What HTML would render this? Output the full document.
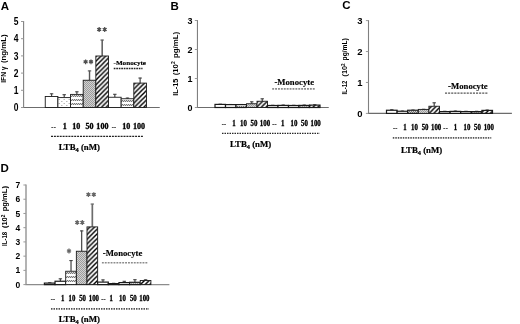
<!DOCTYPE html>
<html><head><meta charset="utf-8"><title>Figure</title>
<style>
html,body{margin:0;padding:0;background:#fff;}
body{width:520px;height:324px;overflow:hidden;font-family:"Liberation Sans",sans-serif;}
svg{display:block;filter:blur(0.35px);}
</style></head><body>
<svg width="520" height="324" viewBox="0 0 520 324">
<defs>
<pattern id="ph" width="4.7" height="4.7" patternUnits="userSpaceOnUse" patternTransform="translate(2.0,0)"><rect width="4.7" height="4.7" fill="#fff"/><path d="M-1,1 L1,-1 M-1,5.7 L5.7,-1 M3.7,5.7 L5.7,3.7" stroke="#000" stroke-width="1.45"/></pattern>
<pattern id="pg" width="2" height="2" patternUnits="userSpaceOnUse"><rect width="2" height="2" fill="#d2d2d2"/><rect width="1" height="1" fill="#9c9c9c"/><rect x="1" y="1" width="1" height="1" fill="#9c9c9c"/></pattern>
<pattern id="pv" width="2" height="4" patternUnits="userSpaceOnUse"><rect width="2" height="4" fill="#fff"/><rect x="0" y="2" width="1" height="1" fill="#787878"/><rect x="1" y="1" width="1" height="1" fill="#787878"/><rect x="0" y="1" width="1" height="1" fill="#d6d6d6"/><rect x="1" y="2" width="1" height="1" fill="#d6d6d6"/></pattern>
<pattern id="pd" width="5" height="4" patternUnits="userSpaceOnUse"><rect width="5" height="4" fill="#fff"/><rect x="1" y="1" width="1.5" height="0.8" fill="#aaa"/><rect x="3.5" y="3" width="1.5" height="0.8" fill="#aaa"/></pattern>
<g id="star"><path d="M0,-2.4 L0,2.4 M-2,-1.2 L2,1.2 M-2,1.2 L2,-1.2" stroke="currentColor" stroke-width="1.25" fill="none"/><circle r="1.3" fill="currentColor"/></g>
</defs>
<rect width="520" height="324" fill="#fff"/>
<text x="0.8" y="9.8" font-family='"Liberation Sans", sans-serif' font-size="11.5" font-weight="bold" text-anchor="start" fill="#000">A</text>
<line x1="23.6" y1="21.0" x2="23.6" y2="108.0" stroke="#808080" stroke-width="1.1"/>
<line x1="23.1" y1="107.5" x2="159.75" y2="107.5" stroke="#6c6c6c" stroke-width="1.1"/>
<line x1="21.0" y1="107.5" x2="23.6" y2="107.5" stroke="#999" stroke-width="1"/>
<text x="18.4" y="111.18" font-family='"Liberation Sans", sans-serif' font-size="10" font-weight="bold" text-anchor="end" fill="#000" textLength="4.73" lengthAdjust="spacingAndGlyphs">0</text>
<line x1="21.0" y1="90.3" x2="23.6" y2="90.3" stroke="#999" stroke-width="1"/>
<text x="18.4" y="93.98" font-family='"Liberation Sans", sans-serif' font-size="10" font-weight="bold" text-anchor="end" fill="#000" textLength="4.73" lengthAdjust="spacingAndGlyphs">1</text>
<line x1="21.0" y1="73.1" x2="23.6" y2="73.1" stroke="#999" stroke-width="1"/>
<text x="18.4" y="76.78" font-family='"Liberation Sans", sans-serif' font-size="10" font-weight="bold" text-anchor="end" fill="#000" textLength="4.73" lengthAdjust="spacingAndGlyphs">2</text>
<line x1="21.0" y1="55.9" x2="23.6" y2="55.9" stroke="#999" stroke-width="1"/>
<text x="18.4" y="59.58" font-family='"Liberation Sans", sans-serif' font-size="10" font-weight="bold" text-anchor="end" fill="#000" textLength="4.73" lengthAdjust="spacingAndGlyphs">3</text>
<line x1="21.0" y1="38.7" x2="23.6" y2="38.7" stroke="#999" stroke-width="1"/>
<text x="18.4" y="42.38" font-family='"Liberation Sans", sans-serif' font-size="10" font-weight="bold" text-anchor="end" fill="#000" textLength="4.73" lengthAdjust="spacingAndGlyphs">4</text>
<line x1="21.0" y1="21.5" x2="23.6" y2="21.5" stroke="#999" stroke-width="1"/>
<text x="18.4" y="25.18" font-family='"Liberation Sans", sans-serif' font-size="10" font-weight="bold" text-anchor="end" fill="#000" textLength="4.73" lengthAdjust="spacingAndGlyphs">5</text>
<line x1="51.575" y1="93.5" x2="51.575" y2="96.5" stroke="#444" stroke-width="1.2"/>
<line x1="49.875" y1="93.8" x2="53.275000000000006" y2="93.8" stroke="#444" stroke-width="1.1"/>
<rect x="45.25" y="96.50" width="12.65" height="11.00" fill="#fff" stroke="#1a1a1a" stroke-width="0.9"/>
<line x1="64.225" y1="94.4" x2="64.225" y2="97.6" stroke="#444" stroke-width="1.2"/>
<line x1="62.52499999999999" y1="94.7" x2="65.925" y2="94.7" stroke="#444" stroke-width="1.1"/>
<rect x="57.90" y="97.60" width="12.65" height="9.90" fill="url(#pd)" stroke="#1a1a1a" stroke-width="0.9"/>
<line x1="76.875" y1="91.5" x2="76.875" y2="94.4" stroke="#444" stroke-width="1.2"/>
<line x1="75.175" y1="91.8" x2="78.575" y2="91.8" stroke="#444" stroke-width="1.1"/>
<pattern id="pv23" href="#pv" patternTransform="translate(71,94)"/>
<rect x="70.55" y="94.40" width="12.65" height="13.10" fill="url(#pv23)" stroke="#1a1a1a" stroke-width="0.9"/>
<line x1="89.525" y1="70.6" x2="89.525" y2="80.25" stroke="#555" stroke-width="1.4"/>
<line x1="87.825" y1="70.89999999999999" x2="91.22500000000001" y2="70.89999999999999" stroke="#555" stroke-width="1.1"/>
<rect x="83.20" y="80.25" width="12.65" height="27.25" fill="url(#pg)" stroke="#1a1a1a" stroke-width="0.9"/>
<line x1="102.175" y1="39.75" x2="102.175" y2="56" stroke="#5a5a5a" stroke-width="1.5"/>
<line x1="100.475" y1="40.05" x2="103.875" y2="40.05" stroke="#5a5a5a" stroke-width="1.1"/>
<rect x="95.85" y="56.00" width="12.65" height="51.50" fill="url(#ph)" stroke="#1a1a1a" stroke-width="0.9"/>
<line x1="114.825" y1="94" x2="114.825" y2="97.25" stroke="#444" stroke-width="1.2"/>
<line x1="113.125" y1="94.3" x2="116.525" y2="94.3" stroke="#444" stroke-width="1.1"/>
<rect x="108.50" y="97.25" width="12.65" height="10.25" fill="#fff" stroke="#1a1a1a" stroke-width="0.9"/>
<line x1="127.47500000000001" y1="97.75" x2="127.47500000000001" y2="98.75" stroke="#444" stroke-width="1.2"/>
<line x1="125.775" y1="98.05" x2="129.175" y2="98.05" stroke="#444" stroke-width="1.1"/>
<pattern id="pv36" href="#pv" patternTransform="translate(121,99)"/>
<rect x="121.15" y="98.75" width="12.65" height="8.75" fill="url(#pv36)" stroke="#1a1a1a" stroke-width="0.9"/>
<line x1="140.125" y1="77.75" x2="140.125" y2="83.1" stroke="#444" stroke-width="1.2"/>
<line x1="138.425" y1="78.05" x2="141.825" y2="78.05" stroke="#444" stroke-width="1.1"/>
<rect x="133.80" y="83.10" width="12.65" height="24.40" fill="url(#ph)" stroke="#1a1a1a" stroke-width="0.9"/>
<use href="#star" x="85.6" y="61.8" color="#505050"/>
<use href="#star" x="91" y="61.8" color="#505050"/>
<use href="#star" x="99.15" y="29.5" color="#505050"/>
<use href="#star" x="104.7" y="29.5" color="#505050"/>
<text x="113.5" y="65" font-family='"Liberation Serif", serif' font-size="7" font-weight="bold" text-anchor="start" fill="#000" textLength="32.5" lengthAdjust="spacingAndGlyphs" stroke="#000" stroke-width="0.15">-Monocyte</text>
<line x1="113.75" y1="68.5" x2="142.5" y2="68.5" stroke="#222" stroke-width="1.4" stroke-dasharray="1.7 0.8"/>
<text x="53.7" y="129.2" font-family='"Liberation Serif", serif' font-size="6.2" font-weight="bold" text-anchor="middle" fill="#000" letter-spacing="0.3" stroke="#000" stroke-width="0.2">--</text>
<text x="62.735" y="129.2" font-family='"Liberation Serif", serif' font-size="7.6" font-weight="bold" text-anchor="start" fill="#000" textLength="4.03" lengthAdjust="spacingAndGlyphs" stroke="#000" stroke-width="0.3">1</text>
<text x="72.22" y="129.2" font-family='"Liberation Serif", serif' font-size="7.6" font-weight="bold" text-anchor="start" fill="#000" textLength="8.06" lengthAdjust="spacingAndGlyphs" stroke="#000" stroke-width="0.3">10</text>
<text x="85.47" y="129.2" font-family='"Liberation Serif", serif' font-size="7.6" font-weight="bold" text-anchor="start" fill="#000" textLength="8.06" lengthAdjust="spacingAndGlyphs" stroke="#000" stroke-width="0.3">50</text>
<text x="96.36" y="129.2" font-family='"Liberation Serif", serif' font-size="7.6" font-weight="bold" text-anchor="start" fill="#000" textLength="12.08" lengthAdjust="spacingAndGlyphs" stroke="#000" stroke-width="0.3">100</text>
<text x="114.1" y="129.2" font-family='"Liberation Serif", serif' font-size="6.2" font-weight="bold" text-anchor="middle" fill="#000" letter-spacing="0.3" stroke="#000" stroke-width="0.2">--</text>
<text x="122.22" y="129.2" font-family='"Liberation Serif", serif' font-size="7.6" font-weight="bold" text-anchor="start" fill="#000" textLength="8.06" lengthAdjust="spacingAndGlyphs" stroke="#000" stroke-width="0.3">10</text>
<text x="133.06" y="129.2" font-family='"Liberation Serif", serif' font-size="7.6" font-weight="bold" text-anchor="start" fill="#000" textLength="12.08" lengthAdjust="spacingAndGlyphs" stroke="#000" stroke-width="0.3">100</text>
<line x1="51" y1="136.4" x2="143.5" y2="136.4" stroke="#222" stroke-width="1.3" stroke-dasharray="2 0.9"/>
<text x="58.75" y="149.75" font-family='"Liberation Serif", serif' font-size="9" font-weight="bold" text-anchor="start" fill="#000" textLength="41.25" lengthAdjust="spacingAndGlyphs" stroke="#000" stroke-width="0.2">LTB<tspan font-size="6.5" dy="1.8">4</tspan><tspan dy="-1.8"> (nM)</tspan></text>
<text transform="translate(5.6,82.8) rotate(-90)" font-family='"Liberation Sans", sans-serif' font-size="6.7" font-weight="bold" textLength="10.8" lengthAdjust="spacingAndGlyphs">IFN</text>
<text transform="translate(5.6,70.3) rotate(-90)" font-family='"Liberation Sans", sans-serif' font-size="6.7" font-weight="bold" textLength="3.7" lengthAdjust="spacingAndGlyphs">γ</text>
<text transform="translate(5.6,63) rotate(-90)" font-family='"Liberation Sans", sans-serif' font-size="6.7" font-weight="bold" textLength="28.5" lengthAdjust="spacingAndGlyphs">(ng/mL)</text>
<text x="170.5" y="9.5" font-family='"Liberation Sans", sans-serif' font-size="11.5" font-weight="bold" text-anchor="start" fill="#000">B</text>
<line x1="197.45" y1="20.0" x2="197.45" y2="108.0" stroke="#808080" stroke-width="1.1"/>
<line x1="196.95" y1="107.5" x2="328.75" y2="107.5" stroke="#6c6c6c" stroke-width="1.1"/>
<line x1="194.85" y1="107.5" x2="197.45" y2="107.5" stroke="#999" stroke-width="1"/>
<text x="192.6" y="110.72" font-family='"Liberation Sans", sans-serif' font-size="9" font-weight="bold" text-anchor="end" fill="#000" textLength="5.0" lengthAdjust="spacingAndGlyphs">0</text>
<line x1="194.85" y1="78.5" x2="197.45" y2="78.5" stroke="#999" stroke-width="1"/>
<text x="192.6" y="81.72" font-family='"Liberation Sans", sans-serif' font-size="9" font-weight="bold" text-anchor="end" fill="#000" textLength="5.0" lengthAdjust="spacingAndGlyphs">1</text>
<line x1="194.85" y1="49.5" x2="197.45" y2="49.5" stroke="#999" stroke-width="1"/>
<text x="192.6" y="52.72" font-family='"Liberation Sans", sans-serif' font-size="9" font-weight="bold" text-anchor="end" fill="#000" textLength="5.0" lengthAdjust="spacingAndGlyphs">2</text>
<line x1="194.85" y1="20.5" x2="197.45" y2="20.5" stroke="#999" stroke-width="1"/>
<text x="192.6" y="23.72" font-family='"Liberation Sans", sans-serif' font-size="9" font-weight="bold" text-anchor="end" fill="#000" textLength="5.0" lengthAdjust="spacingAndGlyphs">3</text>
<line x1="220.25" y1="103.9" x2="220.25" y2="104.4" stroke="#444" stroke-width="1.2"/>
<line x1="218.55" y1="104.2" x2="221.95" y2="104.2" stroke="#444" stroke-width="1.1"/>
<rect x="215.00" y="104.40" width="10.50" height="3.10" fill="#fff" stroke="#1a1a1a" stroke-width="1.2"/>
<line x1="230.75" y1="104.2" x2="230.75" y2="104.6" stroke="#444" stroke-width="1.2"/>
<line x1="229.05" y1="104.5" x2="232.45" y2="104.5" stroke="#444" stroke-width="1.1"/>
<rect x="225.50" y="104.60" width="10.50" height="2.90" fill="#fff" stroke="#1a1a1a" stroke-width="1.2"/>
<line x1="241.25" y1="104.2" x2="241.25" y2="104.6" stroke="#444" stroke-width="1.2"/>
<line x1="239.55" y1="104.5" x2="242.95" y2="104.5" stroke="#444" stroke-width="1.1"/>
<pattern id="pv79" href="#pv" patternTransform="translate(236,105)"/>
<rect x="236.00" y="104.60" width="10.50" height="2.90" fill="url(#pv79)" stroke="#1a1a1a" stroke-width="1.2"/>
<line x1="251.75" y1="101.5" x2="251.75" y2="103.75" stroke="#444" stroke-width="1.2"/>
<line x1="250.05" y1="101.8" x2="253.45" y2="101.8" stroke="#444" stroke-width="1.1"/>
<rect x="246.50" y="103.75" width="10.50" height="3.75" fill="url(#pg)" stroke="#1a1a1a" stroke-width="0.9"/>
<line x1="262.25" y1="98.5" x2="262.25" y2="101.25" stroke="#444" stroke-width="1.2"/>
<line x1="260.55" y1="98.8" x2="263.95" y2="98.8" stroke="#444" stroke-width="1.1"/>
<rect x="257.00" y="101.25" width="10.50" height="6.25" fill="url(#ph)" stroke="#1a1a1a" stroke-width="0.9"/>
<line x1="272.75" y1="105" x2="272.75" y2="105.5" stroke="#444" stroke-width="1.2"/>
<line x1="271.05" y1="105.3" x2="274.45" y2="105.3" stroke="#444" stroke-width="1.1"/>
<rect x="267.50" y="105.50" width="10.50" height="2.00" fill="#fff" stroke="#1a1a1a" stroke-width="1.2"/>
<line x1="283.25" y1="104.8" x2="283.25" y2="105.4" stroke="#444" stroke-width="1.2"/>
<line x1="281.55" y1="105.1" x2="284.95" y2="105.1" stroke="#444" stroke-width="1.1"/>
<rect x="278.00" y="105.40" width="10.50" height="2.10" fill="#fff" stroke="#1a1a1a" stroke-width="1.2"/>
<line x1="293.75" y1="105" x2="293.75" y2="105.5" stroke="#444" stroke-width="1.2"/>
<line x1="292.05" y1="105.3" x2="295.45" y2="105.3" stroke="#444" stroke-width="1.1"/>
<pattern id="pv95" href="#pv" patternTransform="translate(288,106)"/>
<rect x="288.50" y="105.50" width="10.50" height="2.00" fill="url(#pv95)" stroke="#1a1a1a" stroke-width="1.2"/>
<line x1="304.25" y1="104.8" x2="304.25" y2="105.4" stroke="#444" stroke-width="1.2"/>
<line x1="302.55" y1="105.1" x2="305.95" y2="105.1" stroke="#444" stroke-width="1.1"/>
<rect x="299.00" y="105.40" width="10.50" height="2.10" fill="url(#pg)" stroke="#1a1a1a" stroke-width="1.2"/>
<line x1="314.75" y1="104.5" x2="314.75" y2="105.1" stroke="#444" stroke-width="1.2"/>
<line x1="313.05" y1="104.8" x2="316.45" y2="104.8" stroke="#444" stroke-width="1.1"/>
<rect x="309.50" y="105.10" width="10.50" height="2.40" fill="url(#ph)" stroke="#1a1a1a" stroke-width="1.2"/>
<text x="274.4" y="84.75" font-family='"Liberation Serif", serif' font-size="9" font-weight="bold" text-anchor="start" fill="#000" textLength="39.6" lengthAdjust="spacingAndGlyphs" stroke="#000" stroke-width="0.15">-Monocyte</text>
<line x1="272.2" y1="88.85" x2="315.25" y2="88.85" stroke="#8c8c8c" stroke-width="1.7" stroke-dasharray="1.9 1"/>
<text x="224.1" y="125.6" font-family='"Liberation Serif", serif' font-size="6.2" font-weight="bold" text-anchor="middle" fill="#000" letter-spacing="0.3" stroke="#000" stroke-width="0.2">--</text>
<text x="232.285" y="125.6" font-family='"Liberation Serif", serif' font-size="7.3" font-weight="bold" text-anchor="start" fill="#000" textLength="3.43" lengthAdjust="spacingAndGlyphs" stroke="#000" stroke-width="0.3">1</text>
<text x="240.07" y="125.6" font-family='"Liberation Serif", serif' font-size="7.3" font-weight="bold" text-anchor="start" fill="#000" textLength="6.86" lengthAdjust="spacingAndGlyphs" stroke="#000" stroke-width="0.3">10</text>
<text x="250.57" y="125.6" font-family='"Liberation Serif", serif' font-size="7.3" font-weight="bold" text-anchor="start" fill="#000" textLength="6.86" lengthAdjust="spacingAndGlyphs" stroke="#000" stroke-width="0.3">50</text>
<text x="259.855" y="125.6" font-family='"Liberation Serif", serif' font-size="7.3" font-weight="bold" text-anchor="start" fill="#000" textLength="10.29" lengthAdjust="spacingAndGlyphs" stroke="#000" stroke-width="0.3">100</text>
<text x="274.6" y="125.6" font-family='"Liberation Serif", serif' font-size="6.2" font-weight="bold" text-anchor="middle" fill="#000" letter-spacing="0.3" stroke="#000" stroke-width="0.2">--</text>
<text x="280.88500000000005" y="125.6" font-family='"Liberation Serif", serif' font-size="7.3" font-weight="bold" text-anchor="start" fill="#000" textLength="3.43" lengthAdjust="spacingAndGlyphs" stroke="#000" stroke-width="0.3">1</text>
<text x="290.57" y="125.6" font-family='"Liberation Serif", serif' font-size="7.3" font-weight="bold" text-anchor="start" fill="#000" textLength="6.86" lengthAdjust="spacingAndGlyphs" stroke="#000" stroke-width="0.3">10</text>
<text x="301.07" y="125.6" font-family='"Liberation Serif", serif' font-size="7.3" font-weight="bold" text-anchor="start" fill="#000" textLength="6.86" lengthAdjust="spacingAndGlyphs" stroke="#000" stroke-width="0.3">50</text>
<text x="310.45500000000004" y="125.6" font-family='"Liberation Serif", serif' font-size="7.3" font-weight="bold" text-anchor="start" fill="#000" textLength="10.29" lengthAdjust="spacingAndGlyphs" stroke="#000" stroke-width="0.3">100</text>
<line x1="222" y1="133.45" x2="319.75" y2="133.45" stroke="#2a2a2a" stroke-width="1.3" stroke-dasharray="1.5 1"/>
<text x="230" y="147.25" font-family='"Liberation Serif", serif' font-size="9" font-weight="bold" text-anchor="start" fill="#000" textLength="41.25" lengthAdjust="spacingAndGlyphs" stroke="#000" stroke-width="0.2">LTB<tspan font-size="6.5" dy="1.8">4</tspan><tspan dy="-1.8"> (nM)</tspan></text>
<text transform="translate(178.4,95.8) rotate(-90)" font-family='"Liberation Sans", sans-serif' font-size="7.8" font-weight="bold" textLength="17.1" lengthAdjust="spacingAndGlyphs">IL-15</text>
<text transform="translate(178.4,75.3) rotate(-90)" font-family='"Liberation Sans", sans-serif' font-size="7.8" font-weight="bold" textLength="14.0" lengthAdjust="spacingAndGlyphs">(10<tspan font-size="5" dy="-3">2</tspan></text>
<text transform="translate(178.4,58) rotate(-90)" font-family='"Liberation Sans", sans-serif' font-size="7.8" font-weight="bold" textLength="26" lengthAdjust="spacingAndGlyphs">pg/mL)</text>
<text x="342.2" y="9.2" font-family='"Liberation Sans", sans-serif' font-size="11.5" font-weight="bold" text-anchor="start" fill="#000">C</text>
<line x1="368.5" y1="20.1" x2="368.5" y2="113.9" stroke="#808080" stroke-width="1.1"/>
<line x1="368.0" y1="113.4" x2="511.9" y2="113.4" stroke="#6c6c6c" stroke-width="1.1"/>
<line x1="365.9" y1="113.4" x2="368.5" y2="113.4" stroke="#999" stroke-width="1"/>
<text x="362.6" y="116.8" font-family='"Liberation Sans", sans-serif' font-size="9.5" font-weight="bold" text-anchor="end" fill="#000" textLength="5.28" lengthAdjust="spacingAndGlyphs">0</text>
<line x1="365.9" y1="82.46666666666667" x2="368.5" y2="82.46666666666667" stroke="#999" stroke-width="1"/>
<text x="362.6" y="85.87" font-family='"Liberation Sans", sans-serif' font-size="9.5" font-weight="bold" text-anchor="end" fill="#000" textLength="5.28" lengthAdjust="spacingAndGlyphs">1</text>
<line x1="365.9" y1="51.53333333333333" x2="368.5" y2="51.53333333333333" stroke="#999" stroke-width="1"/>
<text x="362.6" y="54.93" font-family='"Liberation Sans", sans-serif' font-size="9.5" font-weight="bold" text-anchor="end" fill="#000" textLength="5.28" lengthAdjust="spacingAndGlyphs">2</text>
<line x1="365.9" y1="20.599999999999994" x2="368.5" y2="20.599999999999994" stroke="#999" stroke-width="1"/>
<text x="362.6" y="24.0" font-family='"Liberation Sans", sans-serif' font-size="9.5" font-weight="bold" text-anchor="end" fill="#000" textLength="5.28" lengthAdjust="spacingAndGlyphs">3</text>
<line x1="391.8" y1="109.5" x2="391.8" y2="110.25" stroke="#444" stroke-width="1.2"/>
<line x1="390.1" y1="109.8" x2="393.5" y2="109.8" stroke="#444" stroke-width="1.1"/>
<rect x="386.50" y="110.25" width="10.60" height="3.15" fill="#fff" stroke="#1a1a1a" stroke-width="1.2"/>
<line x1="402.40000000000003" y1="110.8" x2="402.40000000000003" y2="111.25" stroke="#444" stroke-width="1.2"/>
<line x1="400.70000000000005" y1="111.1" x2="404.1" y2="111.1" stroke="#444" stroke-width="1.1"/>
<rect x="397.10" y="111.25" width="10.60" height="2.15" fill="#fff" stroke="#1a1a1a" stroke-width="1.2"/>
<line x1="413.0" y1="109.8" x2="413.0" y2="110.25" stroke="#444" stroke-width="1.2"/>
<line x1="411.3" y1="110.1" x2="414.7" y2="110.1" stroke="#444" stroke-width="1.1"/>
<pattern id="pv139" href="#pv" patternTransform="translate(408,110)"/>
<rect x="407.70" y="110.25" width="10.60" height="3.15" fill="url(#pv139)" stroke="#1a1a1a" stroke-width="1.2"/>
<line x1="423.6" y1="109" x2="423.6" y2="109.4" stroke="#444" stroke-width="1.2"/>
<line x1="421.90000000000003" y1="109.3" x2="425.3" y2="109.3" stroke="#444" stroke-width="1.1"/>
<rect x="418.30" y="109.40" width="10.60" height="4.00" fill="url(#pg)" stroke="#1a1a1a" stroke-width="0.9"/>
<line x1="434.2" y1="102.5" x2="434.2" y2="106.25" stroke="#444" stroke-width="1.2"/>
<line x1="432.5" y1="102.8" x2="435.9" y2="102.8" stroke="#444" stroke-width="1.1"/>
<rect x="428.90" y="106.25" width="10.60" height="7.15" fill="url(#ph)" stroke="#1a1a1a" stroke-width="0.9"/>
<line x1="444.8" y1="111" x2="444.8" y2="111.6" stroke="#444" stroke-width="1.2"/>
<line x1="443.1" y1="111.3" x2="446.5" y2="111.3" stroke="#444" stroke-width="1.1"/>
<rect x="439.50" y="111.60" width="10.60" height="1.80" fill="#fff" stroke="#1a1a1a" stroke-width="1.2"/>
<line x1="455.40000000000003" y1="110.8" x2="455.40000000000003" y2="111.4" stroke="#444" stroke-width="1.2"/>
<line x1="453.70000000000005" y1="111.1" x2="457.1" y2="111.1" stroke="#444" stroke-width="1.1"/>
<rect x="450.10" y="111.40" width="10.60" height="2.00" fill="#fff" stroke="#1a1a1a" stroke-width="1.2"/>
<line x1="466.0" y1="111" x2="466.0" y2="111.6" stroke="#444" stroke-width="1.2"/>
<line x1="464.3" y1="111.3" x2="467.7" y2="111.3" stroke="#444" stroke-width="1.1"/>
<pattern id="pv155" href="#pv" patternTransform="translate(461,112)"/>
<rect x="460.70" y="111.60" width="10.60" height="1.80" fill="url(#pv155)" stroke="#1a1a1a" stroke-width="1.2"/>
<line x1="476.6" y1="111" x2="476.6" y2="111.6" stroke="#444" stroke-width="1.2"/>
<line x1="474.90000000000003" y1="111.3" x2="478.3" y2="111.3" stroke="#444" stroke-width="1.1"/>
<rect x="471.30" y="111.60" width="10.60" height="1.80" fill="url(#pg)" stroke="#1a1a1a" stroke-width="1.2"/>
<line x1="487.2" y1="109.8" x2="487.2" y2="110.4" stroke="#444" stroke-width="1.2"/>
<line x1="485.5" y1="110.1" x2="488.9" y2="110.1" stroke="#444" stroke-width="1.1"/>
<rect x="481.90" y="110.40" width="10.60" height="3.00" fill="url(#ph)" stroke="#1a1a1a" stroke-width="1.2"/>
<text x="448.1" y="89" font-family='"Liberation Serif", serif' font-size="9" font-weight="bold" text-anchor="start" fill="#000" textLength="39.6" lengthAdjust="spacingAndGlyphs" stroke="#000" stroke-width="0.15">-Monocyte</text>
<line x1="445" y1="93.1" x2="488.1" y2="93.1" stroke="#555" stroke-width="1.1" stroke-dasharray="2.1 1"/>
<text x="395.3" y="129.9" font-family='"Liberation Serif", serif' font-size="6.2" font-weight="bold" text-anchor="middle" fill="#000" letter-spacing="0.3" stroke="#000" stroke-width="0.2">--</text>
<text x="403.205" y="129.9" font-family='"Liberation Serif", serif' font-size="7.3" font-weight="bold" text-anchor="start" fill="#000" textLength="3.39" lengthAdjust="spacingAndGlyphs" stroke="#000" stroke-width="0.3">1</text>
<text x="411.005" y="129.9" font-family='"Liberation Serif", serif' font-size="7.3" font-weight="bold" text-anchor="start" fill="#000" textLength="6.79" lengthAdjust="spacingAndGlyphs" stroke="#000" stroke-width="0.3">10</text>
<text x="421.70500000000004" y="129.9" font-family='"Liberation Serif", serif' font-size="7.3" font-weight="bold" text-anchor="start" fill="#000" textLength="6.79" lengthAdjust="spacingAndGlyphs" stroke="#000" stroke-width="0.3">50</text>
<text x="431.01000000000005" y="129.9" font-family='"Liberation Serif", serif' font-size="7.3" font-weight="bold" text-anchor="start" fill="#000" textLength="10.18" lengthAdjust="spacingAndGlyphs" stroke="#000" stroke-width="0.3">100</text>
<text x="445.70000000000005" y="129.9" font-family='"Liberation Serif", serif' font-size="6.2" font-weight="bold" text-anchor="middle" fill="#000" letter-spacing="0.3" stroke="#000" stroke-width="0.2">--</text>
<text x="453.805" y="129.9" font-family='"Liberation Serif", serif' font-size="7.3" font-weight="bold" text-anchor="start" fill="#000" textLength="3.39" lengthAdjust="spacingAndGlyphs" stroke="#000" stroke-width="0.3">1</text>
<text x="463.505" y="129.9" font-family='"Liberation Serif", serif' font-size="7.3" font-weight="bold" text-anchor="start" fill="#000" textLength="6.79" lengthAdjust="spacingAndGlyphs" stroke="#000" stroke-width="0.3">10</text>
<text x="474.105" y="129.9" font-family='"Liberation Serif", serif' font-size="7.3" font-weight="bold" text-anchor="start" fill="#000" textLength="6.79" lengthAdjust="spacingAndGlyphs" stroke="#000" stroke-width="0.3">50</text>
<text x="483.66" y="129.9" font-family='"Liberation Serif", serif' font-size="7.3" font-weight="bold" text-anchor="start" fill="#000" textLength="10.18" lengthAdjust="spacingAndGlyphs" stroke="#000" stroke-width="0.3">100</text>
<line x1="392.8" y1="137.85" x2="491.25" y2="137.85" stroke="#555" stroke-width="1.9" stroke-dasharray="1.5 1"/>
<text x="401" y="152.75" font-family='"Liberation Serif", serif' font-size="9" font-weight="bold" text-anchor="start" fill="#000" textLength="41.25" lengthAdjust="spacingAndGlyphs" stroke="#000" stroke-width="0.2">LTB<tspan font-size="6.5" dy="1.8">4</tspan><tspan dy="-1.8"> (nM)</tspan></text>
<text transform="translate(347.3,94.6) rotate(-90)" font-family='"Liberation Sans", sans-serif' font-size="7" font-weight="bold" textLength="13.9" lengthAdjust="spacingAndGlyphs">IL-12</text>
<text transform="translate(347.3,76.5) rotate(-90)" font-family='"Liberation Sans", sans-serif' font-size="7" font-weight="bold" textLength="13.0" lengthAdjust="spacingAndGlyphs">(10<tspan font-size="4.5" dy="-2.6">2</tspan></text>
<text transform="translate(347.3,60.4) rotate(-90)" font-family='"Liberation Sans", sans-serif' font-size="7" font-weight="bold" textLength="22.1" lengthAdjust="spacingAndGlyphs">pg/mL)</text>
<text x="0.6" y="171.9" font-family='"Liberation Sans", sans-serif' font-size="11.5" font-weight="bold" text-anchor="start" fill="#000">D</text>
<line x1="26" y1="184.5" x2="26" y2="285.1" stroke="#a0a0a0" stroke-width="1.6"/>
<line x1="25.5" y1="284.6" x2="169.4" y2="284.6" stroke="#8c8c8c" stroke-width="1.4"/>
<line x1="23.4" y1="284.6" x2="26" y2="284.6" stroke="#999" stroke-width="1"/>
<text x="20.3" y="287.64" font-family='"Liberation Sans", sans-serif' font-size="8.5" font-weight="bold" text-anchor="end" fill="#000" textLength="4.73" lengthAdjust="spacingAndGlyphs">0</text>
<line x1="23.4" y1="270.37142857142857" x2="26" y2="270.37142857142857" stroke="#999" stroke-width="1"/>
<text x="20.3" y="273.41" font-family='"Liberation Sans", sans-serif' font-size="8.5" font-weight="bold" text-anchor="end" fill="#000" textLength="4.73" lengthAdjust="spacingAndGlyphs">1</text>
<line x1="23.4" y1="256.14285714285717" x2="26" y2="256.14285714285717" stroke="#999" stroke-width="1"/>
<text x="20.3" y="259.19" font-family='"Liberation Sans", sans-serif' font-size="8.5" font-weight="bold" text-anchor="end" fill="#000" textLength="4.73" lengthAdjust="spacingAndGlyphs">2</text>
<line x1="23.4" y1="241.9142857142857" x2="26" y2="241.9142857142857" stroke="#999" stroke-width="1"/>
<text x="20.3" y="244.96" font-family='"Liberation Sans", sans-serif' font-size="8.5" font-weight="bold" text-anchor="end" fill="#000" textLength="4.73" lengthAdjust="spacingAndGlyphs">3</text>
<line x1="23.4" y1="227.6857142857143" x2="26" y2="227.6857142857143" stroke="#999" stroke-width="1"/>
<text x="20.3" y="230.73" font-family='"Liberation Sans", sans-serif' font-size="8.5" font-weight="bold" text-anchor="end" fill="#000" textLength="4.73" lengthAdjust="spacingAndGlyphs">4</text>
<line x1="23.4" y1="213.45714285714286" x2="26" y2="213.45714285714286" stroke="#999" stroke-width="1"/>
<text x="20.3" y="216.5" font-family='"Liberation Sans", sans-serif' font-size="8.5" font-weight="bold" text-anchor="end" fill="#000" textLength="4.73" lengthAdjust="spacingAndGlyphs">5</text>
<line x1="23.4" y1="199.22857142857143" x2="26" y2="199.22857142857143" stroke="#999" stroke-width="1"/>
<text x="20.3" y="202.27" font-family='"Liberation Sans", sans-serif' font-size="8.5" font-weight="bold" text-anchor="end" fill="#000" textLength="4.73" lengthAdjust="spacingAndGlyphs">6</text>
<line x1="23.4" y1="185.0" x2="26" y2="185.0" stroke="#999" stroke-width="1"/>
<text x="20.3" y="188.04" font-family='"Liberation Sans", sans-serif' font-size="8.5" font-weight="bold" text-anchor="end" fill="#000" textLength="4.73" lengthAdjust="spacingAndGlyphs">7</text>
<line x1="49.725" y1="282.5" x2="49.725" y2="283.1" stroke="#444" stroke-width="1.2"/>
<line x1="48.025" y1="282.8" x2="51.425000000000004" y2="282.8" stroke="#444" stroke-width="1.1"/>
<rect x="44.40" y="283.10" width="10.65" height="1.50" fill="#fff" stroke="#1a1a1a" stroke-width="1.2"/>
<line x1="60.375" y1="278.5" x2="60.375" y2="281.25" stroke="#444" stroke-width="1.2"/>
<line x1="58.675" y1="278.8" x2="62.075" y2="278.8" stroke="#444" stroke-width="1.1"/>
<rect x="55.05" y="281.25" width="10.65" height="3.35" fill="#fff" stroke="#1a1a1a" stroke-width="1.2"/>
<line x1="71.025" y1="260.25" x2="71.025" y2="271.25" stroke="#444" stroke-width="1.2"/>
<line x1="69.325" y1="260.55" x2="72.72500000000001" y2="260.55" stroke="#444" stroke-width="1.1"/>
<pattern id="pv207" href="#pv" patternTransform="translate(66,271)"/>
<rect x="65.70" y="271.25" width="10.65" height="13.35" fill="url(#pv207)" stroke="#1a1a1a" stroke-width="0.9"/>
<line x1="81.675" y1="230.6" x2="81.675" y2="251.25" stroke="#444" stroke-width="1.2"/>
<line x1="79.975" y1="230.9" x2="83.375" y2="230.9" stroke="#444" stroke-width="1.1"/>
<rect x="76.35" y="251.25" width="10.65" height="33.35" fill="url(#pg)" stroke="#1a1a1a" stroke-width="0.9"/>
<line x1="92.325" y1="203.75" x2="92.325" y2="226.9" stroke="#6c6c6c" stroke-width="1.7"/>
<line x1="90.625" y1="204.05" x2="94.025" y2="204.05" stroke="#6c6c6c" stroke-width="1.1"/>
<rect x="87.00" y="226.90" width="10.65" height="57.70" fill="url(#ph)" stroke="#1a1a1a" stroke-width="0.9"/>
<line x1="102.97500000000001" y1="279.6" x2="102.97500000000001" y2="282.1" stroke="#444" stroke-width="1.2"/>
<line x1="101.275" y1="279.90000000000003" x2="104.67500000000001" y2="279.90000000000003" stroke="#444" stroke-width="1.1"/>
<rect x="97.65" y="282.10" width="10.65" height="2.50" fill="#fff" stroke="#1a1a1a" stroke-width="1.2"/>
<line x1="113.62500000000001" y1="283" x2="113.62500000000001" y2="283.6" stroke="#444" stroke-width="1.2"/>
<line x1="111.92500000000001" y1="283.3" x2="115.32500000000002" y2="283.3" stroke="#444" stroke-width="1.1"/>
<rect x="108.30" y="283.60" width="10.65" height="1.00" fill="#fff" stroke="#1a1a1a" stroke-width="1.2"/>
<line x1="124.27499999999999" y1="281" x2="124.27499999999999" y2="282.6" stroke="#444" stroke-width="1.2"/>
<line x1="122.57499999999999" y1="281.3" x2="125.975" y2="281.3" stroke="#444" stroke-width="1.1"/>
<pattern id="pv223" href="#pv" patternTransform="translate(119,283)"/>
<rect x="118.95" y="282.60" width="10.65" height="2.00" fill="url(#pv223)" stroke="#1a1a1a" stroke-width="1.2"/>
<line x1="134.92499999999998" y1="279.4" x2="134.92499999999998" y2="282.3" stroke="#444" stroke-width="1.2"/>
<line x1="133.225" y1="279.7" x2="136.62499999999997" y2="279.7" stroke="#444" stroke-width="1.1"/>
<rect x="129.60" y="282.30" width="10.65" height="2.30" fill="url(#pg)" stroke="#1a1a1a" stroke-width="1.2"/>
<line x1="145.575" y1="279.5" x2="145.575" y2="280.5" stroke="#444" stroke-width="1.2"/>
<line x1="143.875" y1="279.8" x2="147.27499999999998" y2="279.8" stroke="#444" stroke-width="1.1"/>
<rect x="140.25" y="280.50" width="10.65" height="4.10" fill="url(#ph)" stroke="#1a1a1a" stroke-width="0.9"/>
<use href="#star" x="69" y="251" color="#666"/>
<use href="#star" x="77.2" y="222.5" color="#666"/>
<use href="#star" x="82.3" y="222.5" color="#666"/>
<use href="#star" x="88.4" y="194.6" color="#666"/>
<use href="#star" x="93.8" y="194.6" color="#666"/>
<text x="102.75" y="256" font-family='"Liberation Serif", serif' font-size="9" font-weight="bold" text-anchor="start" fill="#000" textLength="39.5" lengthAdjust="spacingAndGlyphs" stroke="#000" stroke-width="0.15">-Monocyte</text>
<line x1="101.9" y1="262.75" x2="148.1" y2="262.75" stroke="#8c8c8c" stroke-width="1.7" stroke-dasharray="1.9 1"/>
<text x="53.1" y="301.4" font-family='"Liberation Serif", serif' font-size="6.2" font-weight="bold" text-anchor="middle" fill="#000" letter-spacing="0.3" stroke="#000" stroke-width="0.2">--</text>
<text x="60.905" y="301.4" font-family='"Liberation Serif", serif' font-size="7.3" font-weight="bold" text-anchor="start" fill="#000" textLength="3.39" lengthAdjust="spacingAndGlyphs" stroke="#000" stroke-width="0.3">1</text>
<text x="68.605" y="301.4" font-family='"Liberation Serif", serif' font-size="7.3" font-weight="bold" text-anchor="start" fill="#000" textLength="6.79" lengthAdjust="spacingAndGlyphs" stroke="#000" stroke-width="0.3">10</text>
<text x="79.205" y="301.4" font-family='"Liberation Serif", serif' font-size="7.3" font-weight="bold" text-anchor="start" fill="#000" textLength="6.79" lengthAdjust="spacingAndGlyphs" stroke="#000" stroke-width="0.3">50</text>
<text x="88.81" y="301.4" font-family='"Liberation Serif", serif' font-size="7.3" font-weight="bold" text-anchor="start" fill="#000" textLength="10.18" lengthAdjust="spacingAndGlyphs" stroke="#000" stroke-width="0.3">100</text>
<text x="103.6" y="301.4" font-family='"Liberation Serif", serif' font-size="6.2" font-weight="bold" text-anchor="middle" fill="#000" letter-spacing="0.3" stroke="#000" stroke-width="0.2">--</text>
<text x="109.405" y="301.4" font-family='"Liberation Serif", serif' font-size="7.3" font-weight="bold" text-anchor="start" fill="#000" textLength="3.39" lengthAdjust="spacingAndGlyphs" stroke="#000" stroke-width="0.3">1</text>
<text x="119.105" y="301.4" font-family='"Liberation Serif", serif' font-size="7.3" font-weight="bold" text-anchor="start" fill="#000" textLength="6.79" lengthAdjust="spacingAndGlyphs" stroke="#000" stroke-width="0.3">10</text>
<text x="129.905" y="301.4" font-family='"Liberation Serif", serif' font-size="7.3" font-weight="bold" text-anchor="start" fill="#000" textLength="6.79" lengthAdjust="spacingAndGlyphs" stroke="#000" stroke-width="0.3">50</text>
<text x="139.31" y="301.4" font-family='"Liberation Serif", serif' font-size="7.3" font-weight="bold" text-anchor="start" fill="#000" textLength="10.18" lengthAdjust="spacingAndGlyphs" stroke="#000" stroke-width="0.3">100</text>
<line x1="51" y1="308.85" x2="149" y2="308.85" stroke="#555" stroke-width="1.9" stroke-dasharray="1.5 1"/>
<text x="58.75" y="321.75" font-family='"Liberation Serif", serif' font-size="9" font-weight="bold" text-anchor="start" fill="#000" textLength="41.25" lengthAdjust="spacingAndGlyphs" stroke="#000" stroke-width="0.2">LTB<tspan font-size="6.5" dy="1.8">4</tspan><tspan dy="-1.8"> (nM)</tspan></text>
<text transform="translate(7.4,245.9) rotate(-90)" font-family='"Liberation Sans", sans-serif' font-size="7.5" font-weight="bold" textLength="14.1" lengthAdjust="spacingAndGlyphs">IL-18</text>
<text transform="translate(7.4,228) rotate(-90)" font-family='"Liberation Sans", sans-serif' font-size="7.5" font-weight="bold" textLength="13.4" lengthAdjust="spacingAndGlyphs">(10<tspan font-size="4.8" dy="-2.8">2</tspan></text>
<text transform="translate(7.4,211.3) rotate(-90)" font-family='"Liberation Sans", sans-serif' font-size="7.5" font-weight="bold" textLength="25.3" lengthAdjust="spacingAndGlyphs">pg/mL)</text>
</svg>
</body></html>
